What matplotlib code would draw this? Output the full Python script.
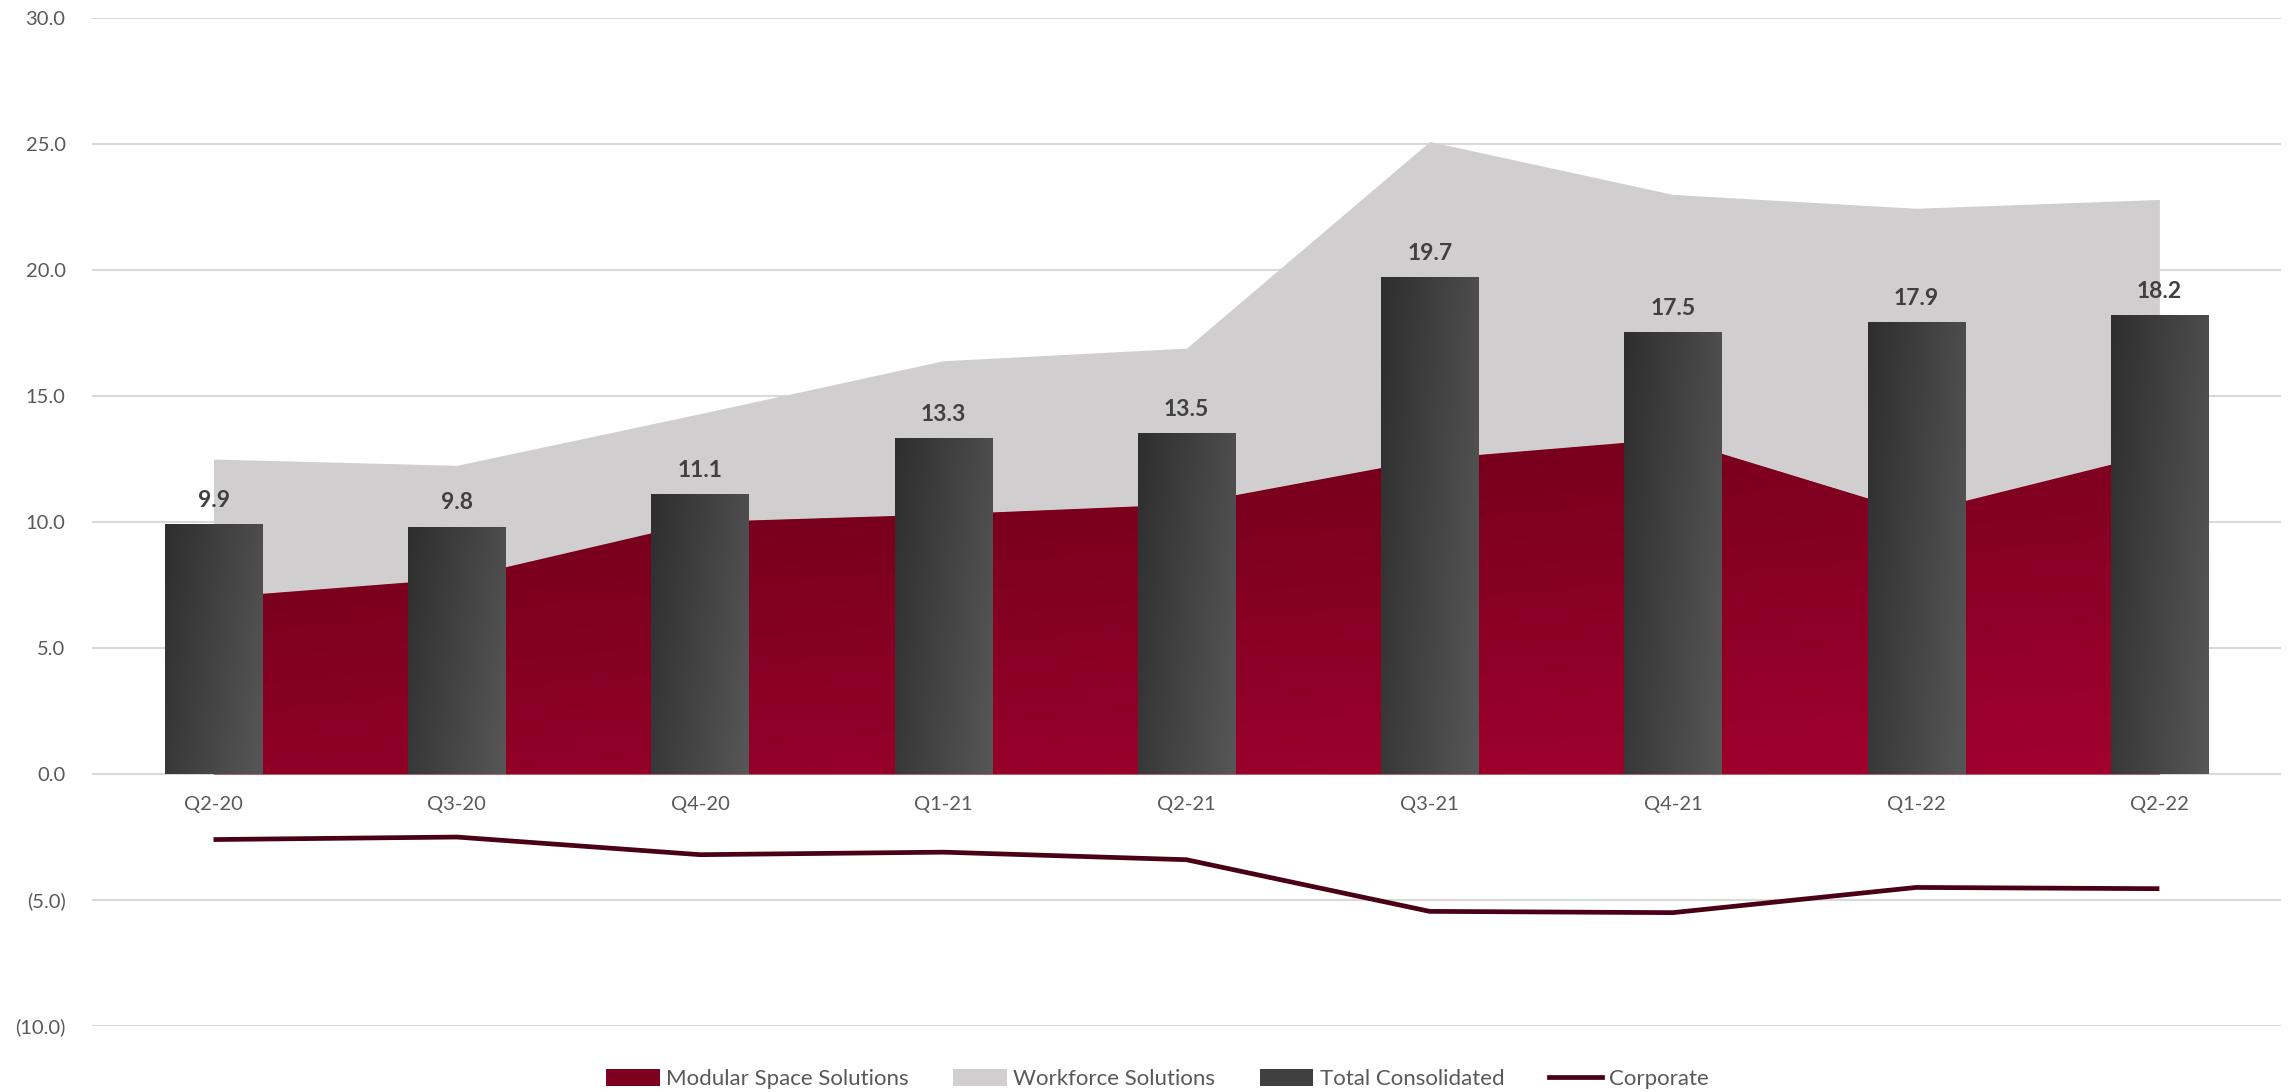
import numpy as np
import matplotlib.pyplot as plt
from matplotlib.colors import LinearSegmentedColormap
from matplotlib.patches import Patch
from matplotlib.lines import Line2D
from matplotlib.ticker import FuncFormatter, MultipleLocator

plt.rcParams['font.family'] = ['Lato', 'DejaVu Sans']

# values (EBITDA by segment, $m)
quarters = ["Q2-20", "Q3-20", "Q4-20", "Q1-21", "Q2-21", "Q3-21", "Q4-21", "Q1-22", "Q2-22"]
modular = [7.0, 7.75, 10.0, 10.3, 10.7, 12.5, 13.3, 10.35, 12.75]
workforce = [5.5, 4.5, 4.3, 6.1, 6.2, 12.6, 9.7, 12.1, 10.05]
total = [9.9, 9.8, 11.1, 13.3, 13.5, 19.7, 17.5, 17.9, 18.2]
corporate = [-2.6, -2.5, -3.2, -3.1, -3.4, -5.45, -5.5, -4.5, -4.55]

GRID = "#D9D9D9"
TXT = "#595959"
RED0, RED1 = "#690017", "#a3002e"
BAR0, BAR1 = "#2e2e2e", "#575757"
GREY = "#D0CECF"
CORP = "#4a0015"


def gradient(ax, extent, c0, c1, wx, wy, zorder, clip=None):
    yy, xx = np.mgrid[0:1:200j, 0:1:200j]
    t = (wx * xx + wy * yy) / (wx + wy)
    cmap = LinearSegmentedColormap.from_list("g", [c0, c1])
    im = ax.imshow(t, cmap=cmap, extent=extent, origin="upper", aspect="auto",
                   interpolation="bilinear", zorder=zorder)
    if clip is not None:
        im.set_clip_path(clip, transform=ax.transData)
    return im


fig = plt.figure(figsize=(22.92, 10.92), dpi=100)
ax = fig.add_axes([0.0401, 0.0604, 0.9551, 0.9231])

x = np.arange(len(quarters))
mod = np.array(modular)
top = mod + np.array(workforce)

ax.fill_between(x, mod, top, color=GREY, lw=0, zorder=1)
red = ax.fill_between(x, 0, mod, color="#850022", lw=0, zorder=2)
gradient(ax, [x[0], x[-1], 0, mod.max()], RED0, RED1, 0.35, 0.65, 2.1,
         clip=red.get_paths()[0])

bars = ax.bar(x, total, width=0.4, color="#444444", zorder=3)
for r in bars:
    gradient(ax, [r.get_x(), r.get_x() + r.get_width(), 0, r.get_height()],
             BAR0, BAR1, 0.75, 0.25, 3.1)
    ax.annotate(f"{r.get_height():.1f}", (r.get_x() + r.get_width() / 2, r.get_height()),
                xytext=(0, 17.5), textcoords="offset points", ha="center", va="center",
                fontsize=16.5, fontweight="bold", color="#404040", zorder=5)

ax.plot(x, corporate, color=CORP, lw=3.4, zorder=4, solid_capstyle="butt")

ax.set_xlim(-0.5, len(quarters) - 0.5)
ax.set_ylim(-10, 30)
ax.yaxis.set_major_locator(MultipleLocator(5))
ax.yaxis.set_major_formatter(FuncFormatter(
    lambda v, p: f"({abs(v):.1f})" if v < 0 else f"{v:.1f}"))
ax.grid(axis="y", color=GRID, lw=1.5)
ax.set_axisbelow(True)

ax.set_xticks(x)
ax.set_xticklabels(quarters)
ax.spines["bottom"].set_position(("data", 0))
for s in ["top", "right", "left", "bottom"]:
    ax.spines[s].set_visible(False)
ax.tick_params(axis="x", length=0, pad=16, labelsize=14.5, labelcolor=TXT)
ax.tick_params(axis="y", length=0, pad=19, labelsize=14.5, labelcolor=TXT)

handles = [
    Patch(facecolor="#7d0020", label="Modular Space Solutions"),
    Patch(facecolor=GREY, label="Workforce Solutions"),
    Patch(facecolor="#404040", label="Total Consolidated"),
    Line2D([], [], color=CORP, lw=3.4, label="Corporate"),
]
fig.legend(handles=handles, loc="center", bbox_to_anchor=(0.505, 0.012), ncol=4,
           frameon=False, fontsize=16, labelcolor=TXT, handlelength=2.4,
           handleheight=0.8, handletextpad=0.3, columnspacing=2.0)

fig.savefig("out.png", dpi=100)
